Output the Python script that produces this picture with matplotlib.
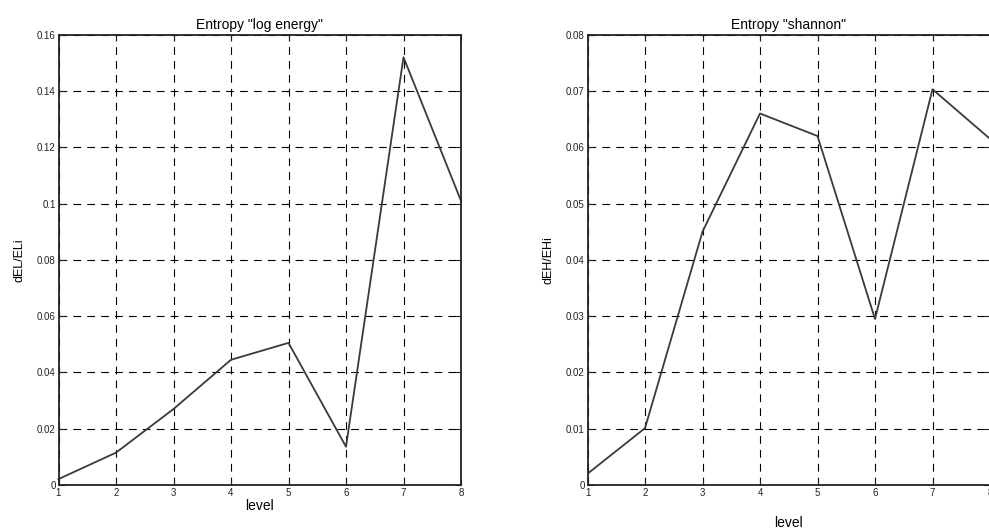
import matplotlib
matplotlib.use('Agg')
import matplotlib.pyplot as plt

plt.rcParams['font.family'] = ['Liberation Sans', 'DejaVu Sans']

# niveis de decomposicao
levels = [1, 2, 3, 4, 5, 6, 7, 8]

# entropia "log energy"
d_log_energy = [0.0021, 0.0115, 0.027, 0.0445, 0.0505, 0.0136, 0.152, 0.101]

# entropia "shannon"
d_shannon = [0.002, 0.0101, 0.045, 0.066, 0.062, 0.0295, 0.0703, 0.0615]

LINE_COLOR = '#3a3a3a'


def style_axes(ax, ymax, ystep):
    ax.set_xlim(1, 8)
    ax.set_ylim(0, ymax)
    ax.set_xticks(levels)
    n = int(round(ymax / ystep))
    ticks = [i * ystep for i in range(n + 1)]
    ax.set_yticks(ticks)
    ax.set_yticklabels(['0'] + [('%g' % t) for t in ticks[1:]])
    ax.grid(True, color='black', linestyle=(0, (7, 5.5)), linewidth=0.8)
    ax.tick_params(direction='in', length=4, labelsize=7, pad=2,
                   top=True, right=True, colors='#222222')
    for s in ax.spines.values():
        s.set_linewidth(1.3)
        s.set_color('#222222')


fig = plt.figure(figsize=(9.89, 5.28), dpi=100)

ax1 = fig.add_axes([58.5 / 989, 43 / 528, 402.5 / 989, 450.3 / 528])
ax1.plot(levels, d_log_energy, color=LINE_COLOR, linewidth=1.3, clip_on=False)
style_axes(ax1, 0.16, 0.02)
ax1.set_title('Entropy "log energy"', fontsize=10, pad=4)
ax1.set_xlabel('level', fontsize=10, labelpad=1)
ax1.set_ylabel('dEL/ELi', fontsize=9, labelpad=8)

ax2 = fig.add_axes([587.5 / 989, 43 / 528, 402.5 / 989, 450.3 / 528])
ax2.plot(levels, d_shannon, color=LINE_COLOR, linewidth=1.3)
style_axes(ax2, 0.08, 0.01)
ax2.set_title('Entropy "shannon"', fontsize=10, pad=4)
ax2.set_xlabel('level', fontsize=10, labelpad=13)
ax2.set_ylabel('dEH/EHi', fontsize=9, labelpad=8)

fig.savefig('out.png', dpi=100)
